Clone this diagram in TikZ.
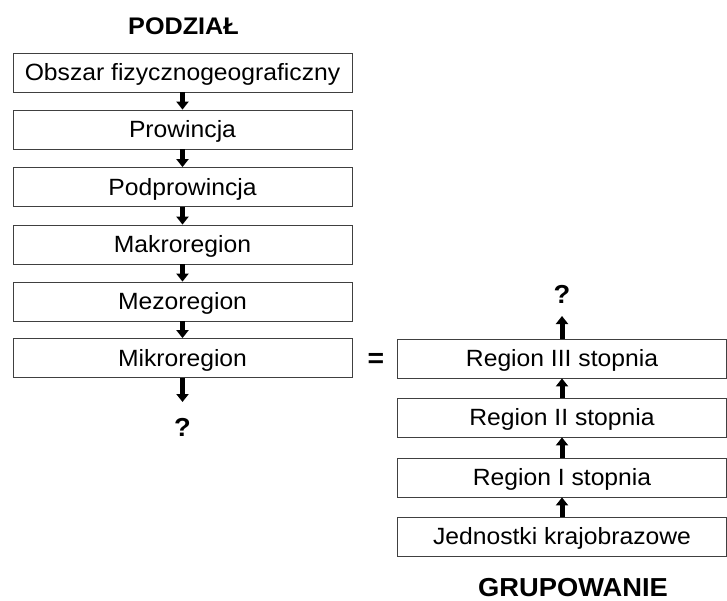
\documentclass[tikz,border=0pt]{standalone}
\usepackage{fontspec}
\setmainfont[FakeStretch=1.05]{Liberation Sans}
\usetikzlibrary{arrows.meta}
\begin{document}
\begin{tikzpicture}[
        x=1pt, y=-1pt,
        font=\fontsize{23.5}{26}\selectfont
    ]
    \tikzset{
        levelbox/.style = {rectangle, draw=black!75, line width=0.8pt, inner sep=0pt,
                           minimum height=39pt, text height=16.8pt, text depth=0pt, align=center},
        leftbox/.style = {levelbox, minimum width=339pt},
        rightbox/.style = {levelbox, minimum width=329pt},
        bigarrow/.style = {line width=5pt, -{Triangle[width=12pt,length=8pt]}},
        heading/.style = {anchor=base, font=\fontsize{24}{28}\selectfont\bfseries},
        question/.style = {anchor=base, font=\fontsize{26}{28}\selectfont\bfseries},
    }
    \useasboundingbox (0,0) rectangle (727,601);
    % podzial
    \node[heading] at (183.5,35) (podzial) {PODZIAŁ};
    \node[leftbox] at (182.5,72.5) (obszar) {Obszar fizycznogeograficzny};
    \node[leftbox] at (182.5,129.5) (prow) {Prowincja};
    \node[leftbox] at (182.5,187.0) (podprow) {Podprowincja};
    \node[leftbox] at (182.5,244.5) (makro) {Makroregion};
    \node[leftbox] at (182.5,301.5) (mezo) {Mezoregion};
    \node[leftbox] at (182.5,358.0) (mikro) {Mikroregion};
    \coordinate (mikroend) at (182.5,402);
    \node[question] at (182.5,436.5) (qdown) {?};
    %
    \draw[bigarrow] (obszar) -- (prow);
    \draw[bigarrow] (prow) -- (podprow);
    \draw[bigarrow] (podprow) -- (makro);
    \draw[bigarrow] (makro) -- (mezo);
    \draw[bigarrow] (mezo) -- (mikro);
    \draw[bigarrow] (mikro) -- (mikroend);
    %
    \node[font=\fontsize{27}{28}\selectfont\bfseries] at (376,360) (equal) {=};
    % grupowanie
    \node[rightbox] at (562.0,358.5) (reg3) {Region III stopnia};
    \node[rightbox] at (562.0,417.5) (reg2) {Region II stopnia};
    \node[rightbox] at (562.0,477.5) (reg1) {Region I stopnia};
    \node[rightbox] at (562.0,536.5) (jedn) {Jednostki krajobrazowe};
    \coordinate (reg3end) at (562.0,316);
    \node[question] at (562.0,303.5) (qup) {?};
    \node[heading, font=\fontsize{26}{28}\selectfont\bfseries] at (573.0,596.5) (grupowanie) {GRUPOWANIE};
    %
    \draw[bigarrow] (jedn) -- (reg1);
    \draw[bigarrow] (reg1) -- (reg2);
    \draw[bigarrow] (reg2) -- (reg3);
    \draw[bigarrow] (reg3) -- (reg3end);
\end{tikzpicture}
\end{document}
